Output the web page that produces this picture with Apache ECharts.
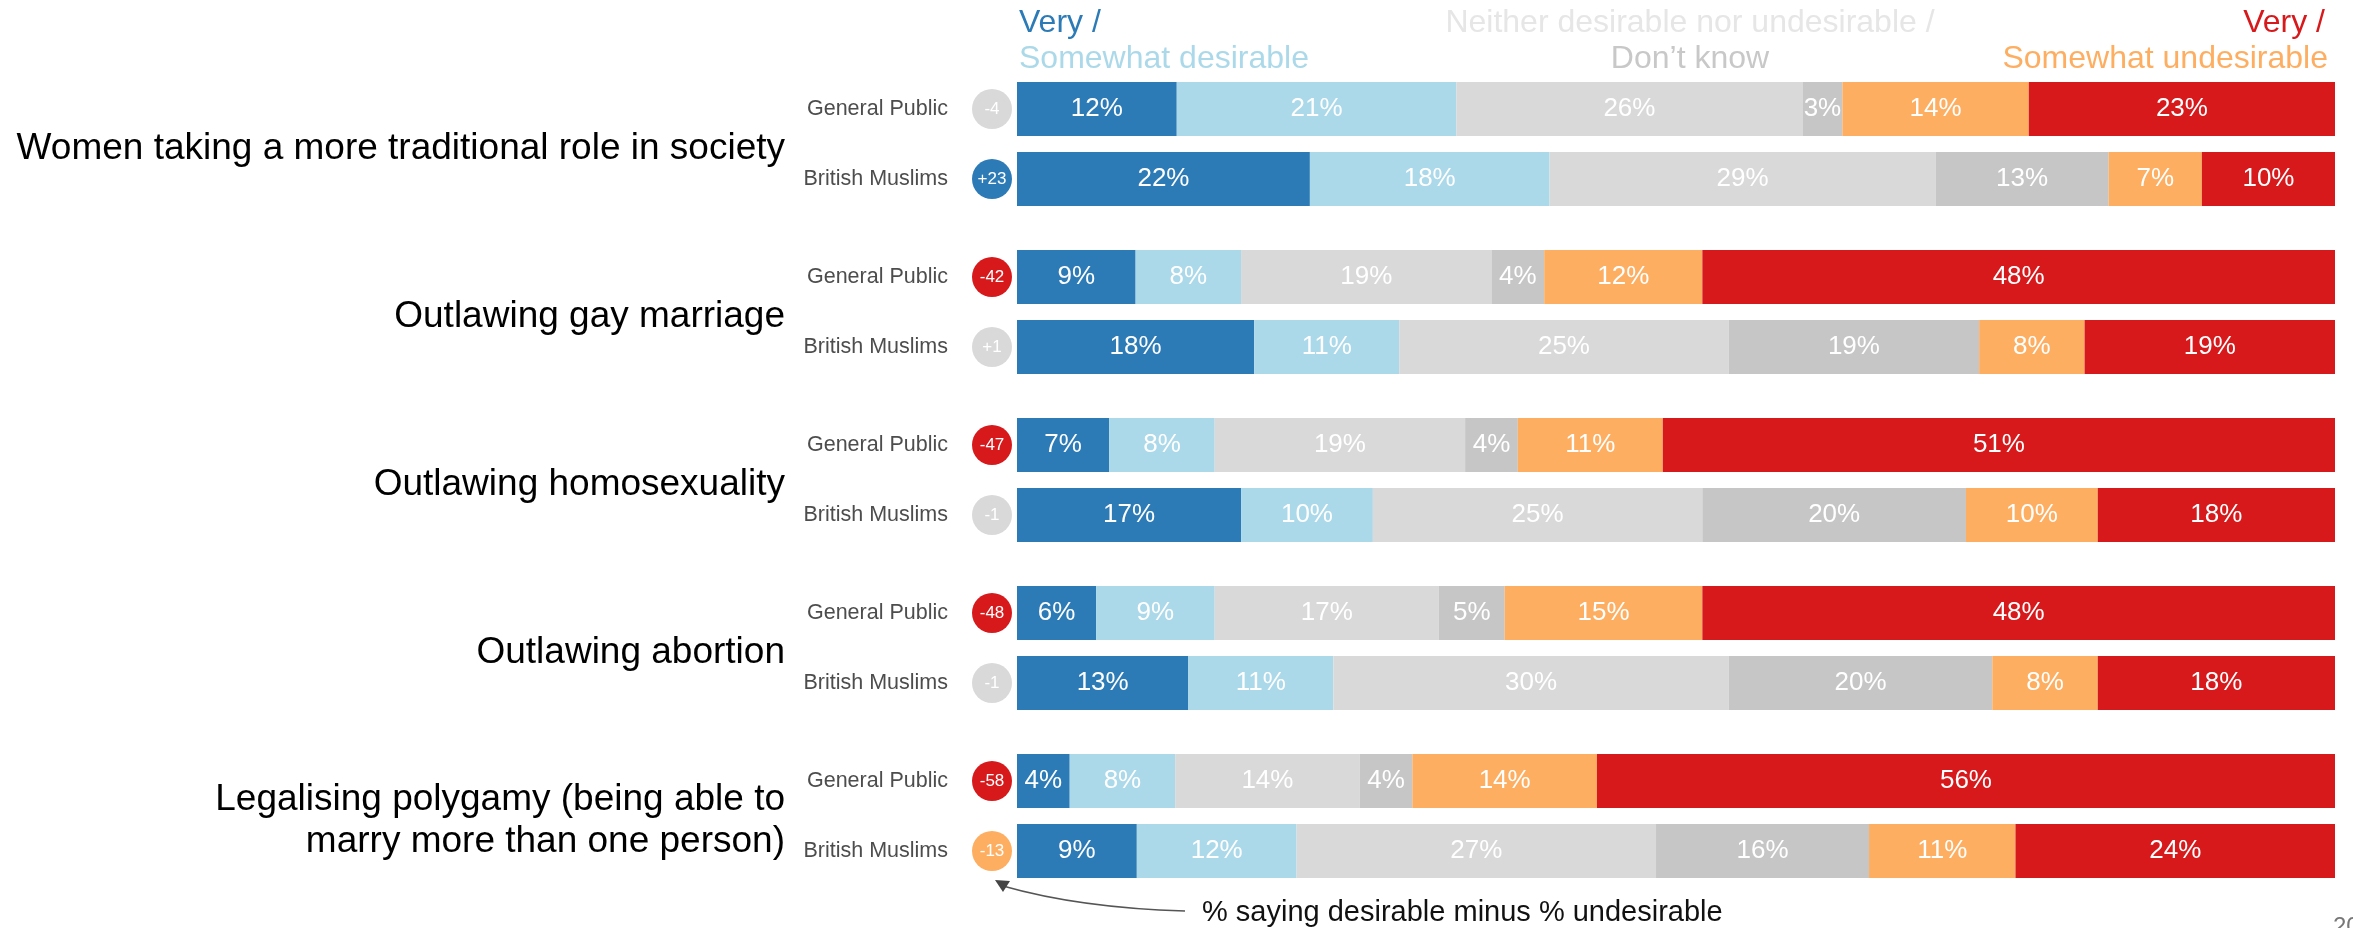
<!DOCTYPE html>
<html>
<head>
<meta charset="utf-8">
<script src="https://cdn.jsdelivr.net/npm/echarts@6/dist/echarts.min.js"></script>
<style>
  html, body { margin: 0; padding: 0; background: #fff; }
  #chart { width: 2353px; height: 928px; }
</style>
</head>
<body>
<div id="chart"></div>
<script>
// questions (one per pair of bars)
const questions = [
  'Women taking a more traditional role in society',
  'Outlawing gay marriage',
  'Outlawing homosexuality',
  'Outlawing abortion',
  'Legalising polygamy (being able to\nmarry more than one person)'
]
// rows, top to bottom
const groups = [
  'General Public', 'British Muslims',
  'General Public', 'British Muslims',
  'General Public', 'British Muslims',
  'General Public', 'British Muslims',
  'General Public', 'British Muslims'
]
const veryDesirable       = [12, 22,  9, 18,  7, 17,  6, 13,  4,  9]
const somewhatDesirable   = [21, 18,  8, 11,  8, 10,  9, 11,  8, 12]
const neither             = [26, 29, 19, 25, 19, 25, 17, 30, 14, 27]
const dontKnow            = [ 3, 13,  4, 19,  4, 20,  5, 20,  4, 16]
const somewhatUndesirable = [14,  7, 12,  8, 11, 10, 15,  8, 14, 11]
const veryUndesirable     = [23, 10, 48, 19, 51, 18, 48, 18, 56, 24]
// % desirable minus % undesirable
const netScore = [-4, 23, -42, 1, -47, -1, -48, -1, -58, -13]

const segments = [
  { name: 'Very desirable', data: veryDesirable, color: '#2c7bb6' },
  { name: 'Somewhat desirable', data: somewhatDesirable, color: '#abd9e9' },
  { name: 'Neither', data: neither, color: '#d9d9d9' },
  { name: "Don't know", data: dontKnow, color: '#c6c6c6' },
  { name: 'Somewhat undesirable', data: somewhatUndesirable, color: '#fdae61' },
  { name: 'Very undesirable', data: veryUndesirable, color: '#d7191c' }
]

const FONT = '"Liberation Sans", Arial, Helvetica, sans-serif'
const BAR_H = 54
const GRID_LEFT = 1017
const GRID_RIGHT = 18

function rowTop(i) {
  // pairs every 168px, second bar 70px below the first
  return 82 + Math.floor(i / 2) * 168 + (i % 2) * 70
}

function netStyle(v) {
  if (v >= 10) return 'blue'
  if (v <= -20) return 'red'
  if (v <= -10) return 'orange'
  return 'grey'
}

const chart = echarts.init(document.getElementById('chart'))

const circle = { width: 40, height: 40, borderRadius: 20, align: 'center', color: '#fff', fontSize: 17, fontFamily: FONT }

const grid = [], xAxis = [], yAxis = [], series = []
groups.forEach((g, i) => {
  const total = segments.reduce((s, seg) => s + seg.data[i], 0)
  grid.push({ left: GRID_LEFT, right: GRID_RIGHT, top: rowTop(i), height: BAR_H })
  xAxis.push({ gridIndex: i, type: 'value', min: 0, max: total, show: false })
  yAxis.push({
    gridIndex: i,
    type: 'category',
    data: [g],
    axisLine: { show: false },
    axisTick: { show: false },
    axisLabel: {
      margin: 5,
      formatter: (name) => {
        const v = netScore[i]
        const txt = v > 0 ? '+' + v : String(v)
        return '{g|' + name + '}{sp|}{' + netStyle(v) + '|' + txt + '}'
      },
      rich: {
        g: { fontSize: 21.5, color: '#4d4d4d', fontFamily: FONT },
        sp: { width: 24 },
        grey: Object.assign({ backgroundColor: '#d9d9d9' }, circle),
        blue: Object.assign({ backgroundColor: '#2c7bb6' }, circle),
        orange: Object.assign({ backgroundColor: '#fdae61' }, circle),
        red: Object.assign({ backgroundColor: '#d7191c' }, circle)
      }
    }
  })
  segments.forEach((seg) => {
    series.push({
      type: 'bar',
      name: seg.name,
      xAxisIndex: i,
      yAxisIndex: i,
      stack: 'row' + i,
      barWidth: '100%',
      data: [seg.data[i]],
      itemStyle: { color: seg.color },
      label: {
        show: true,
        position: 'inside',
        formatter: '{c}%',
        color: '#fff',
        fontSize: 26,
        fontFamily: FONT
      },
      silent: true
    })
  })
})

const graphic = []
// question labels
questions.forEach((q, k) => {
  graphic.push({
    type: 'text',
    x: 785,
    y: rowTop(k * 2) + 67,
    style: {
      text: q,
      font: '37px ' + FONT,
      fill: '#000',
      align: 'right',
      verticalAlign: 'middle',
      lineHeight: 42
    }
  })
})
// header legend
const headers = [
  { text: 'Very /', x: 1019, y: 23, align: 'left', fill: '#2c7bb6' },
  { text: 'Somewhat desirable', x: 1019, y: 59, align: 'left', fill: '#abd9e9' },
  { text: 'Neither desirable nor undesirable /', x: 1690, y: 23, align: 'center', fill: '#e6e6e6' },
  { text: 'Don’t know', x: 1690, y: 59, align: 'center', fill: '#c8c8c8' },
  { text: 'Very /', x: 2325, y: 23, align: 'right', fill: '#d7191c' },
  { text: 'Somewhat undesirable', x: 2328, y: 59, align: 'right', fill: '#fdae61' }
]
headers.forEach((h) => {
  graphic.push({
    type: 'text', x: h.x, y: h.y,
    style: { text: h.text, font: '32px ' + FONT, fill: h.fill, align: h.align, verticalAlign: 'middle' }
  })
})
// annotation + arrow
graphic.push({
  type: 'text', x: 1202, y: 913,
  style: { text: '% saying desirable minus % undesirable', font: '29px ' + FONT, fill: '#111', align: 'left', verticalAlign: 'middle' }
})
graphic.push({
  type: 'bezierCurve',
  shape: { x1: 1185, y1: 911, cpx1: 1080, cpy1: 908, x2: 1003, y2: 886 },
  style: { stroke: '#555', lineWidth: 1.5, fill: null }
})
graphic.push({
  type: 'polygon',
  shape: { points: [[995, 880], [1010, 881], [1003, 892]] },
  style: { fill: '#444' }
})
// page number (cut off at the bottom)
graphic.push({
  type: 'text', x: 2333, y: 915,
  style: { text: '20', font: '24px ' + FONT, fill: '#777', align: 'left', verticalAlign: 'top' }
})

chart.setOption({
  animation: false,
  grid: grid,
  xAxis: xAxis,
  yAxis: yAxis,
  series: series,
  graphic: graphic
})
</script>
</body>
</html>
